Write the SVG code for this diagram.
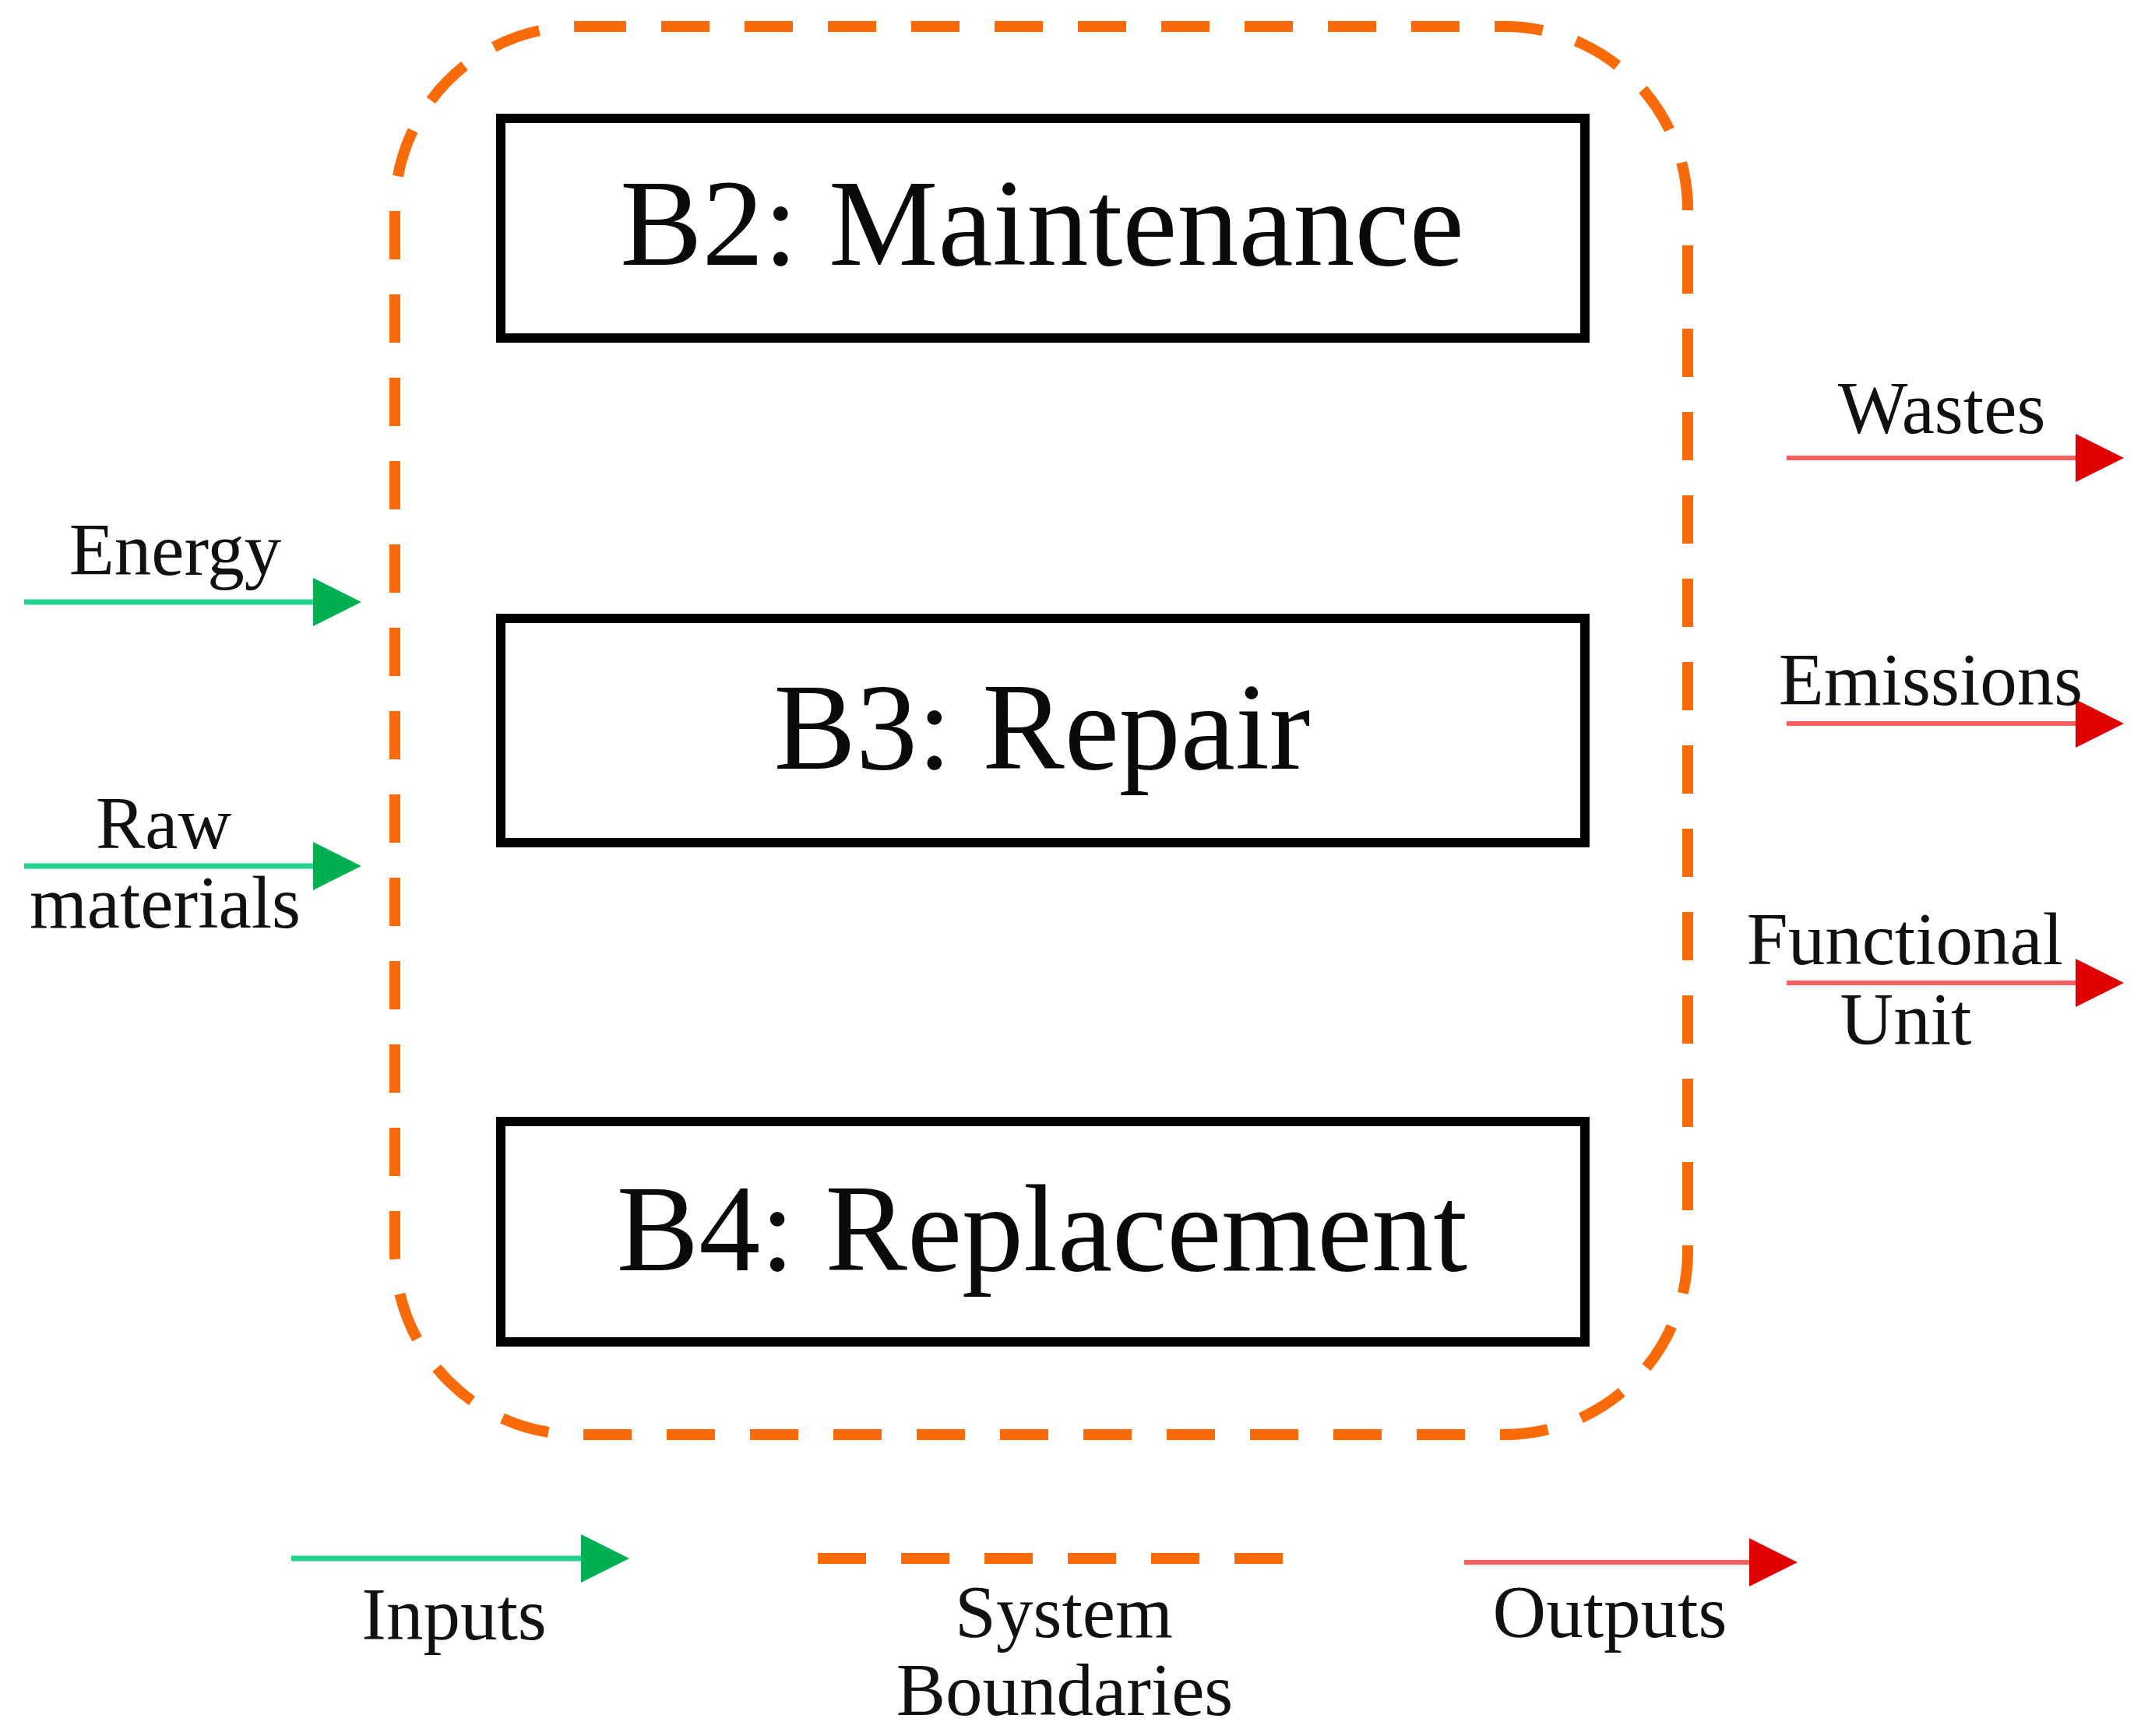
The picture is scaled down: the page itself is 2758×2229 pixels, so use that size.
<svg xmlns="http://www.w3.org/2000/svg" width="2758" height="2229" viewBox="0 0 2758 2229">
<style>
.box{fill:#fff;stroke:#000;stroke-width:12}
.big{font-family:"Liberation Serif",serif;font-size:158px;fill:#0a0a0a;text-anchor:middle}
.lbl{font-family:"Liberation Serif",serif;font-size:95px;fill:#111;text-anchor:middle}
.bound{fill:none;stroke:#F96A09;stroke-width:14;stroke-dasharray:62 45}
.in{stroke:#22D38C;stroke-width:7;fill:none}
.out{stroke:#FF5F5F;stroke-width:6;fill:none}
</style>
<defs>
<marker id="ahIn" markerUnits="userSpaceOnUse" markerWidth="64" markerHeight="64" refX="2" refY="31" orient="auto" viewBox="0 0 64 62">
<path d="M0,0 L62,31 L0,62 z" fill="#00B050"/>
</marker>
<marker id="ahOut" markerUnits="userSpaceOnUse" markerWidth="64" markerHeight="64" refX="2" refY="31" orient="auto" viewBox="0 0 64 62">
<path d="M0,0 L62,31 L0,62 z" fill="#E00000"/>
</marker>
</defs>
<rect width="2758" height="2229" fill="#fff"/>
<g id="system-boundary">
<rect class="bound" x="507" y="34" width="1660" height="1808" rx="235" ry="235"/>
</g>
<g id="node-b2">
<rect class="box" x="643" y="152" width="1392" height="282"/>
<text class="big" x="1338" y="340">B2: Maintenance</text>
</g>
<g id="node-b3">
<rect class="box" x="643" y="794" width="1392" height="288"/>
<text class="big" x="1338" y="987">B3: Repair</text>
</g>
<g id="node-b4">
<rect class="box" x="643" y="1440" width="1392" height="283"/>
<text class="big" x="1338" y="1631">B4: Replacement</text>
</g>
<g id="connectors">
<line class="in" x1="31" y1="773" x2="404" y2="773" marker-end="url(#ahIn)"/>
<line class="in" x1="31" y1="1112" x2="404" y2="1112" marker-end="url(#ahIn)"/>
<line class="out" x1="2294" y1="588" x2="2667" y2="588" marker-end="url(#ahOut)"/>
<line class="out" x1="2294" y1="929" x2="2667" y2="929" marker-end="url(#ahOut)"/>
<line class="out" x1="2294" y1="1262" x2="2667" y2="1262" marker-end="url(#ahOut)"/>
</g>
<g id="labels">
<text class="lbl" x="225" y="738">Energy</text>
<text class="lbl" x="210" y="1089">Raw</text>
<text class="lbl" x="212" y="1191">materials</text>
<text class="lbl" x="2493" y="556">Wastes</text>
<text class="lbl" x="2479" y="905">Emissions</text>
<text class="lbl" x="2446" y="1238">Functional</text>
<text class="lbl" x="2447" y="1341">Unit</text>
</g>
<g id="legend">
<line class="in" x1="374" y1="2001" x2="748" y2="2001" marker-end="url(#ahIn)"/>
<text class="lbl" x="583" y="2105">Inputs</text>
<line class="bound" x1="1050" y1="2001" x2="1652" y2="2001"/>
<text class="lbl" x="1366" y="2102">System</text>
<text class="lbl" x="1367" y="2202">Boundaries</text>
<line class="out" x1="1880" y1="2006" x2="2248" y2="2006" marker-end="url(#ahOut)"/>
<text class="lbl" x="2067" y="2102">Outputs</text>
</g>
</svg>
